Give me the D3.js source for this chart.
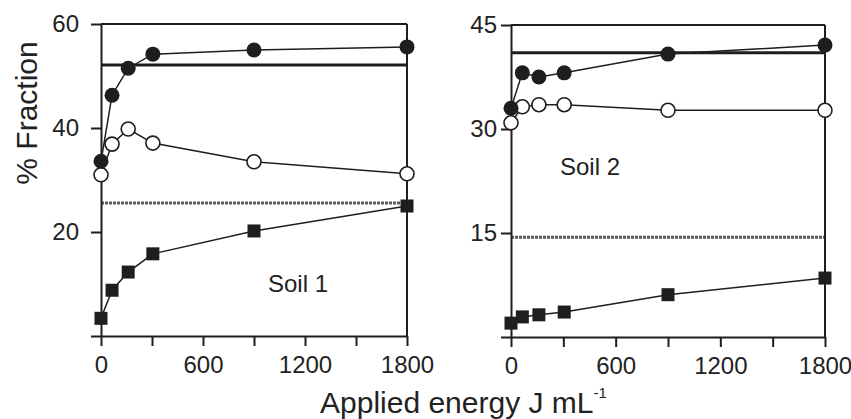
<!DOCTYPE html>
<html>
<head>
<meta charset="utf-8">
<script src="https://cdn.jsdelivr.net/npm/d3@7"></script>
<style>
  body { margin: 0; background: #fff; }
  svg { display: block; }
  text { font-family: "Liberation Sans", Arial, sans-serif; fill: #222; }
</style>
</head>
<body>
<div id="chart"></div>
<script>
// Applied energy (J/mL) at which each fraction was measured
var energy = [0, 65, 160, 305, 900, 1800];

// Soil 1 series (% fraction)
var soil1Filled = [33.6, 46.3, 51.5, 54.2, 55.0, 55.6];
var soil1Open   = [31.0, 36.9, 39.8, 37.1, 33.5, 31.2];
var soil1Square = [3.4, 8.8, 12.3, 15.8, 20.2, 25.0];
var soil1Refs   = [52.1, 25.6];   // solid, dotted

// Soil 2 series (% fraction)
var soil2Filled = [33.0, 38.1, 37.5, 38.1, 40.8, 42.1];
var soil2Open   = [30.9, 33.2, 33.5, 33.5, 32.7, 32.7];
var soil2Square = [2.0, 2.9, 3.2, 3.6, 6.1, 8.5];
var soil2Refs   = [41.0, 14.4];

var xTicks = [0, 300, 600, 900, 1200, 1500, 1800];
var xLabels = [0, 600, 1200, 1800];
var soil1YTicks = [0, 20, 40, 60];
var soil2YTicks = [0, 15, 30, 45];

var width = 851, height = 419;
var ink = "#1e1e1e";

var svg = d3.select("#chart").append("svg")
    .attr("width", width)
    .attr("height", height);

var panels = [
    { name: "Soil 1", xr: [101, 407], yr: [336, 24], ymax: 60, yticks: soil1YTicks, pad: 12,
      filled: soil1Filled, open: soil1Open, square: soil1Square, refs: soil1Refs, label: [268, 292] },
    { name: "Soil 2", xr: [511, 825], yr: [337, 25], ymax: 45, yticks: soil2YTicks, pad: 4,
      filled: soil2Filled, open: soil2Open, square: soil2Square, refs: soil2Refs, label: [560, 175] }
];

panels.forEach(function(p) {
    var x = d3.scaleLinear().domain([0, 1800]).range(p.xr);
    var y = d3.scaleLinear().domain([0, p.ymax]).range(p.yr);
    var g = svg.append("g");

    // reference lines
    g.append("line")
        .attr("x1", x(0)).attr("x2", x(1800))
        .attr("y1", y(p.refs[0])).attr("y2", y(p.refs[0]))
        .style("stroke", ink).style("stroke-width", 3);
    g.append("line")
        .attr("x1", x(0)).attr("x2", x(1800))
        .attr("y1", y(p.refs[1])).attr("y2", y(p.refs[1]))
        .style("stroke", "#5a5a5a").style("stroke-width", 3)
        .style("stroke-dasharray", "3,1");

    // frame: top and right
    g.append("line")
        .attr("x1", x(0)).attr("x2", x(1800))
        .attr("y1", y(p.ymax)).attr("y2", y(p.ymax))
        .style("stroke", ink).style("stroke-width", 2);
    g.append("line")
        .attr("x1", x(1800)).attr("x2", x(1800))
        .attr("y1", y(p.ymax)).attr("y2", y(0))
        .style("stroke", ink).style("stroke-width", 2);

    // axes
    var yAxis = d3.axisLeft(y).tickValues(p.yticks).tickSize(10).tickSizeOuter(0)
        .tickPadding(p.pad)
        .tickFormat(function(d) { return d === 0 ? "" : d; });
    g.append("g").attr("class", "axis")
        .attr("transform", "translate(" + x(0) + ",0)")
        .call(yAxis);

    var xAxis = d3.axisBottom(x).tickValues(xTicks).tickSize(10).tickSizeOuter(0)
        .tickPadding(10)
        .tickFormat(function(d) { return xLabels.indexOf(d) >= 0 ? d : ""; });
    g.append("g").attr("class", "axis")
        .attr("transform", "translate(0," + y(0) + ")")
        .call(xAxis);

    g.selectAll(".axis path, .axis line")
        .style("stroke", ink).style("stroke-width", 2);
    g.selectAll(".axis text")
        .style("font-size", "24px")
        .style("font-family", "'Liberation Sans', Arial, sans-serif")
        .style("fill", "#222");

    // series lines
    var line = d3.line()
        .x(function(d, i) { return x(energy[i]); })
        .y(function(d) { return y(d); });
    [p.square, p.open, p.filled].forEach(function(s) {
        g.append("path").datum(s)
            .attr("d", line)
            .style("fill", "none")
            .style("stroke", ink)
            .style("stroke-width", 1.5);
    });

    // markers
    g.selectAll(".sq").data(p.square).enter().append("rect")
        .attr("class", "sq")
        .attr("x", function(d, i) { return x(energy[i]) - 6.5; })
        .attr("y", function(d) { return y(d) - 6.5; })
        .attr("width", 13).attr("height", 13)
        .style("fill", ink);
    g.selectAll(".op").data(p.open).enter().append("circle")
        .attr("class", "op")
        .attr("cx", function(d, i) { return x(energy[i]); })
        .attr("cy", function(d) { return y(d); })
        .attr("r", 7)
        .style("fill", "#fff").style("stroke", ink).style("stroke-width", 1.6);
    g.selectAll(".fi").data(p.filled).enter().append("circle")
        .attr("class", "fi")
        .attr("cx", function(d, i) { return x(energy[i]); })
        .attr("cy", function(d) { return y(d); })
        .attr("r", 7.5)
        .style("fill", ink);

    g.append("text")
        .attr("x", p.label[0]).attr("y", p.label[1])
        .style("font-size", "24px")
        .text(p.name);
});

// axis titles
svg.append("text")
    .attr("transform", "translate(37,113) rotate(-90)")
    .attr("text-anchor", "middle")
    .style("font-size", "30px")
    .text("% Fraction");

var xt = svg.append("text")
    .attr("x", 320).attr("y", 413)
    .style("font-size", "30px");
xt.append("tspan").text("Applied energy J mL");
xt.append("tspan").attr("dy", -15).style("font-size", "15px").text("-1");
</script>
</body>
</html>
